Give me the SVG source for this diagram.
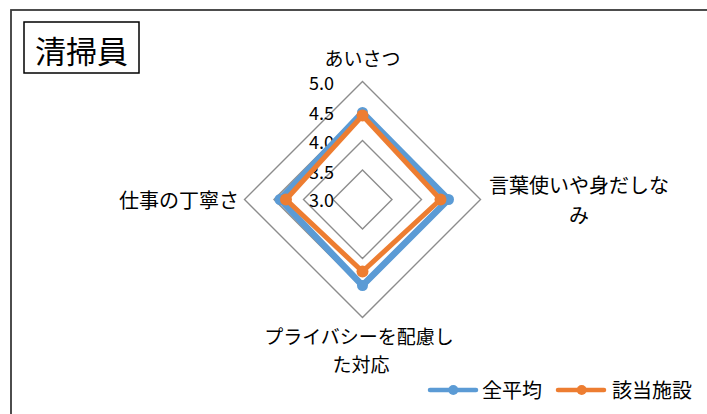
<svg xmlns="http://www.w3.org/2000/svg" width="707" height="414" viewBox="0 0 707 414">
<style>
text{font-family:"Noto Sans CJK JP","Noto Sans",sans-serif;fill:#000}
.lbl{font-size:19px}
.lbl2{font-size:20px}
.ax{font-size:18px;text-anchor:middle}
.grid{fill:none;stroke:#8c8c8c;stroke-width:1.4}
.blue{fill:none;stroke:#5B9BD5;stroke-width:6.5;stroke-linejoin:round;stroke-linecap:round}
.orange{fill:none;stroke:#ED7D31;stroke-width:5;stroke-linejoin:round;stroke-linecap:round}
.bm{fill:#5B9BD5}
.om{fill:#ED7D31}
</style>
<rect x="11" y="10" width="710" height="420" fill="#fff" stroke="#3a3a3a" stroke-width="1.8"/>
<g id="title">
<rect x="24" y="22" width="115" height="51" fill="#fff" stroke="#000" stroke-width="1.5"/>
<text x="81.5" y="63" style="font-size:31px" text-anchor="middle">清掃員</text>
</g>
<g id="grid">
<polygon class="grid" points="362.5,81.5 480.5,199.5 362.5,317.5 244.5,199.5"/>
<polygon class="grid" points="362.5,111 451,199.5 362.5,288 274,199.5"/>
<polygon class="grid" points="362.5,140.5 421.5,199.5 362.5,258.5 303.5,199.5"/>
<polygon class="grid" points="362.5,170 392,199.5 362.5,229 333,199.5"/>
</g>
<g id="axis-labels">
<text class="ax" x="321.5" y="90">5.0</text>
<text class="ax" x="321.5" y="119.5">4.5</text>
<text class="ax" x="321.5" y="149">4.0</text>
<text class="ax" x="321.5" y="178.5">3.5</text>
<text class="ax" x="321.5" y="207">3.0</text>
</g>
<g id="connectors">
<g id="series-all">
<polygon class="blue" points="362.5,112.5 448.5,199.5 362.5,285.5 280,199.5"/>
<circle class="bm" cx="362.5" cy="112.5" r="5.5"/>
<circle class="bm" cx="448.5" cy="199.5" r="5.5"/>
<circle class="bm" cx="362.5" cy="285.5" r="5.5"/>
<circle class="bm" cx="280" cy="199.5" r="5.5"/>
</g>
<g id="series-facility">
<polygon class="orange" points="362.5,115.5 440.5,199.5 362.5,271.5 286,199.5"/>
<circle class="om" cx="362.5" cy="115.5" r="6"/>
<circle class="om" cx="440.5" cy="199.5" r="6"/>
<circle class="om" cx="362.5" cy="271.5" r="6"/>
<circle class="om" cx="286" cy="199.5" r="6"/>
</g>
</g>
<g id="label-aisatsu"><text class="lbl" x="362.5" y="66" text-anchor="middle">あいさつ</text></g>
<g id="label-kotoba"><text class="lbl2" x="579" y="193" text-anchor="middle">言葉使いや身だしな</text><text class="lbl2" x="579" y="222.5" text-anchor="middle">み</text></g>
<g id="label-privacy"><text class="lbl" x="359" y="344" text-anchor="middle">プライバシーを配慮し</text><text class="lbl" x="361" y="372" text-anchor="middle">た対応</text></g>
<g id="label-teinei"><text class="lbl2" x="239" y="208" text-anchor="end">仕事の丁寧さ</text></g>
<g id="legend">
<line x1="430" y1="390" x2="476" y2="390" stroke="#5B9BD5" stroke-width="4.5" stroke-linecap="round"/>
<circle class="bm" cx="453.3" cy="390" r="5"/>
<text x="482" y="398" style="font-size:20px">全平均</text>
<line x1="558" y1="390" x2="604" y2="390" stroke="#ED7D31" stroke-width="4.5" stroke-linecap="round"/>
<circle class="om" cx="581.7" cy="390" r="5"/>
<text x="612" y="398" style="font-size:20px">該当施設</text>
</g>
</svg>
